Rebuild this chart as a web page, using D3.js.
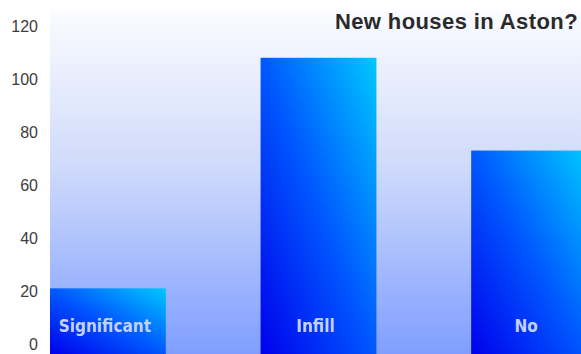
<!DOCTYPE html>
<html>
<head>
<meta charset="utf-8">
<script src="https://cdn.jsdelivr.net/npm/d3@7/dist/d3.min.js"></script>
<style>
  html, body { margin: 0; padding: 0; background: #ffffff; }
  svg { display: block; }
</style>
</head>
<body>
<div id="chart"></div>
<script>
// Survey answers: "New houses in Aston?"
const categories = ["Significant", "Infill", "No"];
const responses = [21, 108, 73];
const yTicks = [0, 20, 40, 60, 80, 100, 120];
const title = "New houses in Aston?";

const width = 581, height = 354;
const plot = { left: 50, top: 10, right: 581, bottom: 354 };

const svg = d3.select("#chart").append("svg")
  .attr("width", width)
  .attr("height", height);

const defs = svg.append("defs");

// Backdrop: pale at the top, fading down to a soft periwinkle blue
const bg = defs.append("linearGradient")
  .attr("id", "bgGrad")
  .attr("x1", 0).attr("y1", 0).attr("x2", 0).attr("y2", 1);
bg.append("stop").attr("offset", "0%").attr("stop-color", "#fbfcff");
bg.append("stop").attr("offset", "45%").attr("stop-color", "#d0dbfb");
bg.append("stop").attr("offset", "100%").attr("stop-color", "#7f9eff");

// Bars: deep blue bottom-left to cyan top-right
const barGrad = defs.append("linearGradient")
  .attr("id", "barGrad")
  .attr("x1", 0).attr("y1", 1).attr("x2", 1).attr("y2", 0);
barGrad.append("stop").attr("offset", "0%").attr("stop-color", "#0000ec");
barGrad.append("stop").attr("offset", "50%").attr("stop-color", "#0058ff");
barGrad.append("stop").attr("offset", "100%").attr("stop-color", "#00c8ff");

const x = d3.scaleBand()
  .domain(categories)
  .range([50, 587])
  .paddingInner(0.45)
  .paddingOuter(0);

const y = d3.scaleLinear()
  .domain([0, 120])
  .range([344, 26]);

// Plot area
svg.append("rect")
  .attr("x", plot.left)
  .attr("y", plot.top)
  .attr("width", plot.right - plot.left)
  .attr("height", plot.bottom - plot.top)
  .attr("fill", "url(#bgGrad)");

// Y axis labels only (no line, no tick marks)
const yAxis = d3.axisLeft(y)
  .tickValues(yTicks)
  .tickSize(0)
  .tickPadding(0);

const gy = svg.append("g")
  .attr("transform", "translate(38,0)")
  .call(yAxis);
gy.select(".domain").remove();
gy.selectAll("text")
  .attr("fill", "#3c3c3c")
  .style("font-family", "'Liberation Sans', Arial, Helvetica, sans-serif")
  .style("font-size", "16px")
  .attr("dy", "0.35em");

// Bars rise from the plot floor
const bars = svg.append("g").selectAll("g.bar")
  .data(categories.map((c, i) => ({ cat: c, value: responses[i] })))
  .join("g")
  .attr("class", "bar");

bars.append("rect")
  .attr("x", d => x(d.cat))
  .attr("y", d => y(d.value))
  .attr("width", x.bandwidth())
  .attr("height", d => plot.bottom - y(d.value))
  .attr("fill", "url(#barGrad)");

// Category names inside the bars
bars.append("text")
  .attr("x", d => x(d.cat) + x.bandwidth() / 2 - 3)
  .attr("y", 332)
  .attr("text-anchor", "middle")
  .attr("fill", "#c4d0ff")
  .style("font-family", "'DejaVu Sans Condensed', 'DejaVu Sans', Arial, sans-serif")
  .style("font-stretch", "condensed")
  .style("font-weight", "bold")
  .style("font-size", "17px")
  .text(d => d.cat);

// Title
svg.append("text")
  .attr("x", 578)
  .attr("y", 29)
  .attr("text-anchor", "end")
  .attr("fill", "#2a2a2a")
  .style("font-family", "'Liberation Sans', Arial, Helvetica, sans-serif")
  .style("font-weight", "bold")
  .style("font-size", "22px")
  .style("letter-spacing", "0.4px")
  .text(title);
</script>
</body>
</html>
